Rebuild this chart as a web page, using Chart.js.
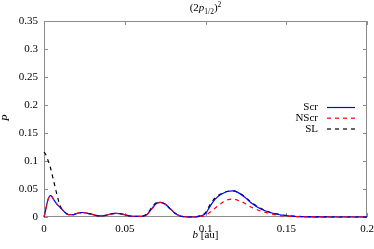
<!DOCTYPE html>
<html>
<head>
<meta charset="utf-8">
<script src="https://cdn.jsdelivr.net/npm/chart.js@4.4.1/dist/chart.umd.min.js"></script>
<style>
  html, body { margin: 0; padding: 0; background: #fff; }
  canvas { display: block; }
</style>
</head>
<body>
<canvas id="grafico" width="374" height="249"></canvas>
<script>
// dados
const bVals = [0, 0.001, 0.002, 0.003, 0.004, 0.005, 0.006, 0.008, 0.010, 0.012, 0.014, 0.016, 0.018, 0.020,
  0.024, 0.028, 0.032, 0.035, 0.038, 0.041, 0.044, 0.047, 0.050, 0.053, 0.056, 0.059, 0.062, 0.064, 0.067,
  0.070, 0.072, 0.075, 0.078, 0.081, 0.084, 0.087, 0.090, 0.094, 0.097, 0.100, 0.103, 0.106, 0.110, 0.114,
  0.117, 0.120, 0.124, 0.128, 0.132, 0.136, 0.140, 0.145, 0.150, 0.155, 0.160, 0.170, 0.180, 0.190, 0.200];

const scrVals = [0, 0.012, 0.026, 0.035, 0.038, 0.036, 0.031, 0.023, 0.017, 0.011, 0.006, 0.004, 0.004, 0.006,
  0.008, 0.006, 0.003, 0.002, 0.003, 0.005, 0.0065, 0.006, 0.004, 0.002, 0.001, 0.001, 0.002, 0.005, 0.016,
  0.025, 0.026, 0.023, 0.015, 0.007, 0.002, 0.0005, 0, 0.0003, 0.002, 0.006, 0.020, 0.032, 0.041, 0.046,
  0.0465, 0.044, 0.036, 0.026, 0.018, 0.012, 0.008, 0.0045, 0.0025, 0.0012, 0.0006, 0.0002, 0, 0, 0];

const nscrVals = [0, 0.012, 0.026, 0.035, 0.038, 0.036, 0.031, 0.023, 0.017, 0.011, 0.006, 0.004, 0.004, 0.006,
  0.008, 0.006, 0.003, 0.002, 0.003, 0.005, 0.0065, 0.006, 0.004, 0.002, 0.001, 0.001, 0.002, 0.005, 0.015,
  0.024, 0.026, 0.023, 0.016, 0.007, 0.002, 0.0005, 0, 0.0002, 0.001, 0.003, 0.009, 0.016, 0.025, 0.031,
  0.032, 0.030, 0.025, 0.018, 0.013, 0.009, 0.006, 0.003, 0.0015, 0.0008, 0.0004, 0.0001, 0, 0, 0];

const slVals = [0.116, 0.112, 0.105, 0.097, 0.088, 0.076, 0.064, 0.040, 0.020, 0.011, 0.006, 0.004, 0.004, 0.006,
  0.008, 0.006, 0.003, 0.002, 0.003, 0.005, 0.0065, 0.006, 0.004, 0.002, 0.001, 0.001, 0.0025, 0.006, 0.018,
  0.026, 0.026, 0.023, 0.015, 0.007, 0.002, 0.0005, 0, 0.0004, 0.0025, 0.008, 0.023, 0.034, 0.042, 0.046,
  0.0465, 0.044, 0.037, 0.027, 0.019, 0.013, 0.0085, 0.005, 0.0028, 0.0014, 0.0007, 0.0002, 0, 0, 0];

const xTicks = [0, 0.05, 0.1, 0.15, 0.2];
const yTicks = [0, 0.05, 0.1, 0.15, 0.2, 0.25, 0.3, 0.35];
const serieNomes = ['Scr', 'NScr', 'SL'];

const FONTE = '"Liberation Serif", serif';
const CINZA = '#8c8c8c';

function pontos(vals) {
  return bVals.map((b, i) => ({ x: b, y: vals[i] }));
}

// moldura com ticks para dentro, estilo gnuplot
const moldura = {
  id: 'moldura',
  beforeDatasetsDraw(chart) {
    const { ctx, chartArea: a, scales } = chart;
    ctx.save();
    ctx.strokeStyle = CINZA;
    ctx.lineWidth = 1;
    ctx.strokeRect(a.left + 0.5, a.top + 0.5, a.right - a.left - 1, a.bottom - a.top - 1);
    ctx.beginPath();
    xTicks.forEach(v => {
      const px = Math.round(scales.x.getPixelForValue(v)) + 0.5;
      ctx.moveTo(px, a.bottom); ctx.lineTo(px, a.bottom - 4);
      ctx.moveTo(px, a.top); ctx.lineTo(px, a.top + 4);
    });
    yTicks.forEach(v => {
      const py = Math.round(scales.y.getPixelForValue(v)) + 0.5;
      ctx.moveTo(a.left, py); ctx.lineTo(a.left + 4, py);
      ctx.moveTo(a.right, py); ctx.lineTo(a.right - 4, py);
    });
    ctx.stroke();
    ctx.restore();
  },
  afterDraw(chart) {
    const { ctx, chartArea: a } = chart;
    ctx.save();
    ctx.fillStyle = '#000';
    ctx.textBaseline = 'alphabetic';

    // titulo (2p_{1/2})^2
    const cx = (a.left + a.right) / 2;
    const partes = [
      { t: '(2', f: '11px ' + FONTE, dy: 0 },
      { t: 'p', f: 'italic 11px ' + FONTE, dy: 0 },
      { t: '1/2', f: '7.5px ' + FONTE, dy: 2.5 },
      { t: ')', f: '11px ' + FONTE, dy: 0 },
      { t: '2', f: '7.5px ' + FONTE, dy: -4.5 }
    ];
    let larg = 0;
    partes.forEach(p => { ctx.font = p.f; larg += ctx.measureText(p.t).width; });
    let x = cx - larg / 2;
    const yBase = 11;
    ctx.textAlign = 'left';
    partes.forEach(p => {
      ctx.font = p.f;
      ctx.fillText(p.t, x, yBase + p.dy);
      x += ctx.measureText(p.t).width;
    });

    // rotulo eixo x: b [au]
    ctx.font = 'italic 11px ' + FONTE;
    const w1 = ctx.measureText('b').width;
    ctx.font = '11px ' + FONTE;
    const w2 = ctx.measureText(' [au]').width;
    let xx = cx - (w1 + w2) / 2;
    ctx.font = 'italic 11px ' + FONTE;
    ctx.fillText('b', xx, 238);
    ctx.font = '11px ' + FONTE;
    ctx.fillText(' [au]', xx + w1, 238);

    // rotulo eixo y: P
    ctx.save();
    ctx.translate(9, 118);
    ctx.rotate(-Math.PI / 2);
    ctx.textAlign = 'center';
    ctx.font = 'italic 11px ' + FONTE;
    ctx.fillText('P', 0, 0);
    ctx.restore();

    // legenda
    const cores = ['#0000ff', '#ff0000', '#000000'];
    const tracos = [[], [4, 4], [4, 4]];
    const ys = [107.5, 118.2, 129];
    ctx.textAlign = 'right';
    ctx.textBaseline = 'middle';
    ctx.font = '11px ' + FONTE;
    serieNomes.forEach((nome, i) => {
      ctx.fillStyle = '#000';
      ctx.fillText(nome, 318, ys[i]);
      ctx.beginPath();
      ctx.strokeStyle = cores[i];
      ctx.lineWidth = 1.2;
      ctx.setLineDash(tracos[i]);
      ctx.moveTo(327, ys[i]);
      ctx.lineTo(355, ys[i]);
      ctx.stroke();
    });
    ctx.restore();
  }
};

const ctx = document.getElementById('grafico');
new Chart(ctx, {
  type: 'line',
  data: {
    datasets: [
      { label: serieNomes[0], data: pontos(scrVals), borderColor: '#0000ff', borderWidth: 1.2, order: 2 },
      { label: serieNomes[1], data: pontos(nscrVals), borderColor: '#ff0000', borderWidth: 1.2, borderDash: [4, 4], order: 1 },
      { label: serieNomes[2], data: pontos(slVals), borderColor: '#000000', borderWidth: 1.2, borderDash: [4, 4], order: 3 }
    ]
  },
  options: {
    responsive: false,
    animation: false,
    devicePixelRatio: 1,
    layout: { padding: { top: 21, right: 7, left: 0, bottom: 0 } },
    elements: {
      point: { radius: 0 },
      line: { cubicInterpolationMode: 'monotone', fill: false }
    },
    plugins: {
      legend: { display: false },
      tooltip: { enabled: false },
      title: { display: false }
    },
    datasets: { line: { clip: 4 } },
    scales: {
      x: {
        type: 'linear',
        min: 0,
        max: 0.2,
        grid: { display: false, drawTicks: false },
        border: { display: false },
        afterBuildTicks: s => { s.ticks = xTicks.map(v => ({ value: v })); },
        afterFit: s => { s.height = 32; s.paddingLeft = 0; s.paddingRight = 0; },
        ticks: {
          padding: 6,
          color: '#000',
          font: { family: FONTE, size: 11 },
          maxRotation: 0,
          callback: v => String(v)
        }
      },
      y: {
        type: 'linear',
        min: 0,
        max: 0.35,
        grid: { display: false, drawTicks: false },
        border: { display: false },
        afterBuildTicks: s => { s.ticks = yTicks.map(v => ({ value: v })); },
        afterFit: s => { s.width = 44; s.paddingTop = 0; s.paddingBottom = 0; },
        ticks: {
          padding: 6,
          color: '#000',
          font: { family: FONTE, size: 11 },
          callback: v => String(v)
        }
      }
    }
  },
  plugins: [moldura]
});
</script>
</body>
</html>
